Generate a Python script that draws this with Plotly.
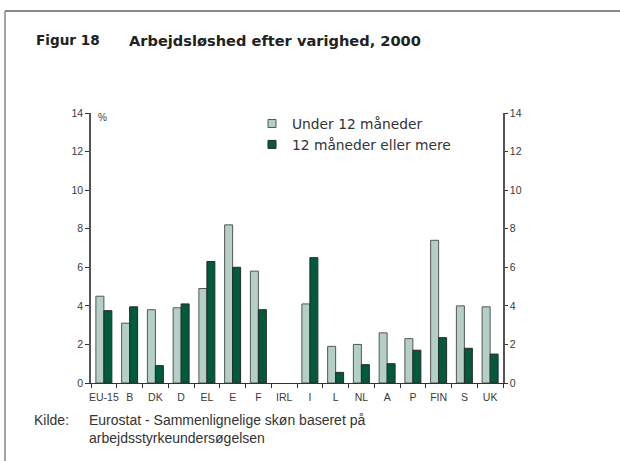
import plotly.graph_objects as go

categories = ["EU-15", "B", "DK", "D", "EL", "E", "F", "IRL", "I", "L", "NL", "A", "P", "FIN", "S", "UK"]
under_12 = [4.5, 3.1, 3.8, 3.9, 4.9, 8.2, 5.8, None, 4.1, 1.9, 2.0, 2.6, 2.3, 7.4, 4.0, 3.95]
over_12 = [3.75, 3.95, 0.9, 4.1, 6.3, 6.0, 3.8, None, 6.5, 0.55, 0.95, 1.0, 1.7, 2.35, 1.8, 1.5]
series_names = ["Under 12 måneder", "12 måneder eller mere"]
y_ticks = [0, 2, 4, 6, 8, 10, 12, 14]

W, H = 620, 461
L, R, T, B = 91, 503, 113, 383

def px(x):
    return (x - L) / (R - L)

def py(y):
    return (B - y) / (B - T)

light = "#b4d0c6"
dark = "#005a3e"

fig = go.Figure()
fig.add_trace(go.Bar(x=categories, y=under_12, name=series_names[0], showlegend=False,
                     marker=dict(color=light, line=dict(color="#555555", width=1))))
fig.add_trace(go.Bar(x=categories, y=over_12, name=series_names[1], showlegend=False,
                     marker=dict(color=dark, line=dict(color="#2a2a2a", width=1))))
# legend entries (small square symbols)
fig.add_trace(go.Scatter(x=[None], y=[None], mode="markers", name=series_names[0],
                         marker=dict(symbol="square", size=8, color=light,
                                     line=dict(color="#555555", width=1))))
fig.add_trace(go.Scatter(x=[None], y=[None], mode="markers", name=series_names[1],
                         marker=dict(symbol="square", size=8, color=dark,
                                     line=dict(color="#2a2a2a", width=1))))
fig.add_trace(go.Scatter(x=[categories[0]], y=[0], yaxis="y2", mode="markers",
                         marker=dict(opacity=0), showlegend=False, hoverinfo="skip"))

axis_font = dict(family="Liberation Sans, Arial", size=10.5, color="#3a3a3a")

fig.update_layout(
    width=W, height=H,
    margin=dict(l=L, r=W - R, t=T, b=H - B, pad=0),
    paper_bgcolor="white", plot_bgcolor="white",
    barmode="group", bargap=0.38, bargroupgap=0.0,
    font=dict(family="Liberation Sans, Arial", color="#333333"),
    xaxis=dict(range=[-0.5, 15.5], showline=True, linecolor="#333333", linewidth=1,
               ticks="outside", tickson="boundaries", ticklen=4, tickcolor="#333333",
               tickfont=axis_font, tickangle=0, ticklabelstandoff=4,
               showgrid=False, zeroline=False),
    yaxis=dict(range=[0, 14], tickvals=y_ticks, showline=True, linecolor="#555555", linewidth=1.5,
               ticks="outside", ticklen=4, tickcolor="#333333", tickfont=axis_font,
               showgrid=False, zeroline=False),
    yaxis2=dict(range=[0, 14], tickvals=y_ticks, overlaying="y", side="right", showline=True,
                linecolor="#555555", linewidth=1.5, ticks="outside", ticklen=3, tickcolor="#333333",
                tickfont=axis_font, showgrid=False, zeroline=False),
    legend=dict(x=px(252), y=py(108), xanchor="left", yanchor="top",
                font=dict(family="DejaVu Sans", size=13.8, color="#333333"),
                bgcolor="rgba(0,0,0,0)", tracegroupgap=0),
    showlegend=True,
)

fig.add_annotation(x=px(96), y=py(117), xref="paper", yref="paper", text="%", showarrow=False,
                   xanchor="left", yanchor="middle", font=dict(size=10, color="#3a3a3a"))

title_font = dict(family="DejaVu Sans", size=14.6, color="#222222")
fig.add_annotation(x=px(34), y=py(40), xref="paper", yref="paper", text="<b>Figur 18</b>",
                   showarrow=False, xanchor="left", yanchor="middle",
                   font=dict(family="DejaVu Sans", size=13.6, color="#222222"))
fig.add_annotation(x=px(127), y=py(40), xref="paper", yref="paper",
                   text="<b>Arbejdsløshed efter varighed, 2000</b>",
                   showarrow=False, xanchor="left", yanchor="middle", font=title_font)

src_font = dict(family="Liberation Sans, Arial", size=14, color="#333333")
fig.add_annotation(x=px(32), y=py(420), xref="paper", yref="paper", text="Kilde:",
                   showarrow=False, xanchor="left", yanchor="middle", font=src_font)
fig.add_annotation(x=px(87), y=py(428.5), xref="paper", yref="paper",
                   text="Eurostat - Sammenlignelige skøn baseret på<br>arbejdsstyrkeundersøgelsen",
                   showarrow=False, xanchor="left", yanchor="middle", align="left", font=src_font)

fig.add_shape(type="line", xref="paper", yref="paper", x0=px(5), x1=px(620), y0=py(11), y1=py(11),
              line=dict(color="#888888", width=2))
fig.add_shape(type="line", xref="paper", yref="paper", x0=px(5), x1=px(5), y0=py(11), y1=py(461),
              line=dict(color="#888888", width=1.5))

fig.write_html("out.html", config={"displayModeBar": False},
               post_script="document.body.style.margin='0';document.body.style.overflow='hidden';")
